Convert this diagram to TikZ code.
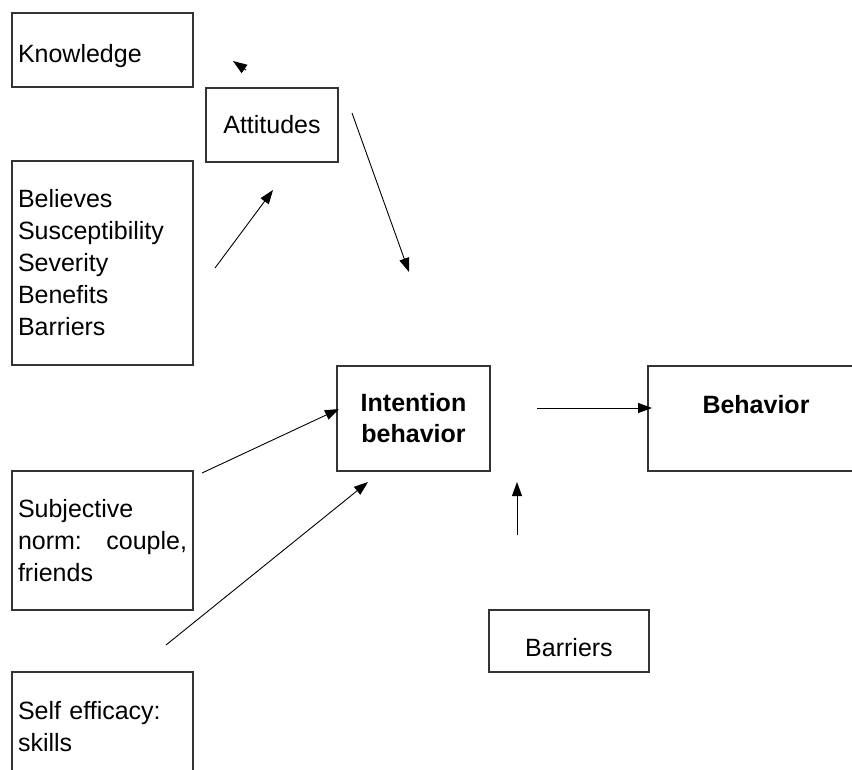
\documentclass[tikz,border=0pt]{standalone}
\usepackage{fontspec}
\setmainfont{Liberation Sans}
\usepackage{tikz}
\usetikzlibrary{arrows.meta,positioning}

\begin{document}
\begin{tikzpicture}[x=1pt,y=-1pt]
\tikzstyle{every node}+=[inner sep=0pt,font=\fontsize{25}{32}\selectfont]
\tikzstyle{box}=[draw=black!80,line width=1.6pt,rectangle]
\tikzstyle{leftbox}=[box,align=left,inner xsep=6pt,text width=169pt,minimum width=181pt]
\tikzstyle{conn}=[black,line width=0.9pt,-{Triangle[length=14pt,width=10pt]}]
\useasboundingbox (0,0) rectangle (852,769);
\clip (0,0) rectangle (852,769);
\node [leftbox,minimum height=74pt,text height=24pt,text depth=0pt] (know) at (102.5,50) {Knowledge};
\node [box,minimum width=132pt,minimum height=74pt] (att) at (272,125) {Attitudes};
\node [leftbox,minimum height=204pt] (bel) at (102.5,263) {Believes\\Susceptibility\\Severity\\Benefits\\Barriers};
\node [leftbox,minimum height=139pt] (subj) at (102.5,540.5) {Subjective\\norm:\hfill couple,\\friends};
\node [leftbox,minimum height=110pt] (self) at (102.5,727) {Self efficacy:\\skills};
\node [box,align=center,minimum width=153pt,minimum height=105pt,font=\fontsize{25}{31}\selectfont\bfseries] (intent) at (413.5,418.5) {Intention\\behavior};
\node [box,minimum width=216pt,minimum height=105pt,text height=18pt,text depth=29pt,font=\fontsize{25}{31}\selectfont\bfseries] (behav) at (756,418.5) {Behavior};
\node [box,minimum width=160pt,minimum height=62pt,text height=30pt,text depth=0pt] (barr) at (569,641) {Barriers};
\coordinate (k1) at (246,70);
\coordinate (k2) at (233,61);
\coordinate (b1) at (215,268);
\coordinate (b2) at (273,190);
\coordinate (a1) at (352,113);
\coordinate (a2) at (409,272);
\coordinate (s1) at (202,473);
\coordinate (s2) at (339,409);
\coordinate (e1) at (166,645);
\coordinate (e2) at (368,482);
\coordinate (i1) at (537,408);
\coordinate (i2) at (652,408);
\coordinate (r1) at (517,535);
\coordinate (r2) at (517,482);
\draw [conn] (k1) -- (k2);
\draw [conn] (b1) -- (b2);
\draw [conn] (a1) -- (a2);
\draw [conn] (s1) -- (s2);
\draw [conn] (e1) -- (e2);
\draw [conn] (i1) -- (i2);
\draw [conn] (r1) -- (r2);
\end{tikzpicture}
\end{document}
